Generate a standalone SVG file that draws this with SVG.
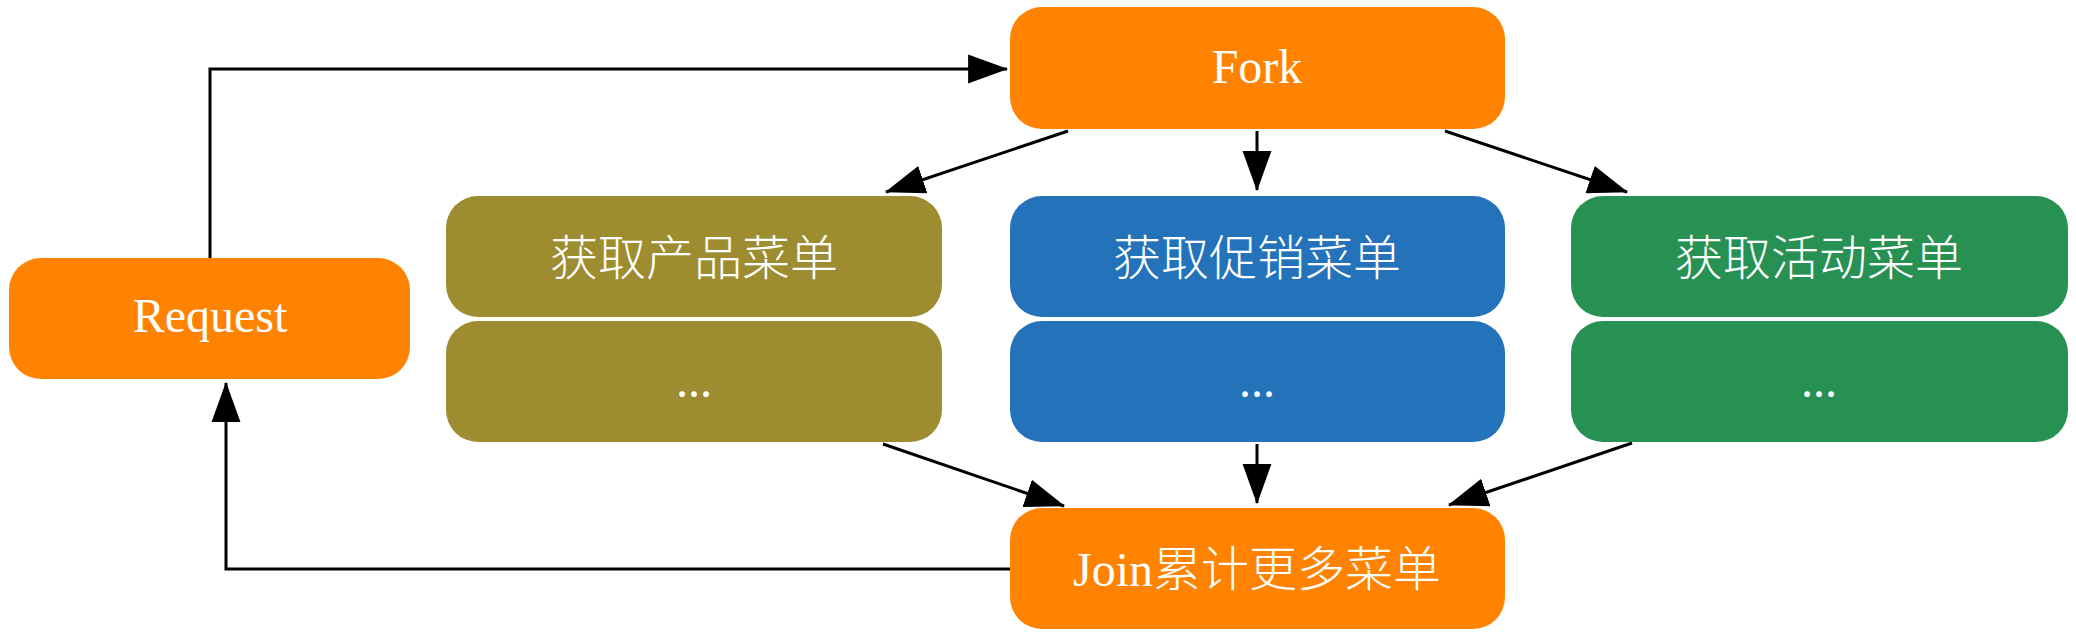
<svg xmlns="http://www.w3.org/2000/svg" width="2076" height="638" viewBox="0 0 2076 638">
<style>
.box{stroke:none}
.orange{fill:#FF8300}
.olive{fill:#9D8C30}
.blue{fill:#2372BA}
.green{fill:#279153}
.t{fill:#ffffff;font-family:"Liberation Serif","Noto Sans CJK SC",serif;font-size:48px;text-anchor:middle}
.cjk{font-weight:300}
.conn{fill:none;stroke:#000;stroke-width:3}
</style>
<defs>
<marker id="arr" markerUnits="userSpaceOnUse" markerWidth="40" markerHeight="30" viewBox="0 0 36 26" refX="35" refY="13" orient="auto">
<path d="M0,0 L36,13 L0,26 Z" fill="#000"/>
</marker>
</defs>
<rect width="2076" height="638" fill="#ffffff"/>
<g id="connectors">
<path class="conn" d="M210,258 V69 H1007" marker-end="url(#arr)"/>
<path class="conn" d="M1010,569 H226 V383" marker-end="url(#arr)"/>
<path class="conn" d="M1068,131 L886,192" marker-end="url(#arr)"/>
<path class="conn" d="M1257,131 V190" marker-end="url(#arr)"/>
<path class="conn" d="M1445,131 L1627,192" marker-end="url(#arr)"/>
<path class="conn" d="M883,444 L1064,506" marker-end="url(#arr)"/>
<path class="conn" d="M1257,444 V503" marker-end="url(#arr)"/>
<path class="conn" d="M1632,443 L1449,505" marker-end="url(#arr)"/>
</g>
<g id="request">
<rect class="box orange" x="9" y="258" width="401" height="121" rx="32"/>
<text class="t" x="210" y="332">Request</text>
</g>
<g id="fork">
<rect class="box orange" x="1010" y="7" width="495" height="122" rx="32"/>
<text class="t" x="1257" y="83">Fork</text>
</g>
<g id="product">
<rect class="box olive" x="446" y="196" width="496" height="121" rx="32"/>
<text class="t cjk" x="694" y="275">获取产品菜单</text>
</g>
<g id="product-more">
<rect class="box olive" x="446" y="321" width="496" height="121" rx="32"/>
<text class="t" x="694" y="397">...</text>
</g>
<g id="promo">
<rect class="box blue" x="1010" y="196" width="495" height="121" rx="32"/>
<text class="t cjk" x="1257" y="275">获取促销菜单</text>
</g>
<g id="promo-more">
<rect class="box blue" x="1010" y="321" width="495" height="121" rx="32"/>
<text class="t" x="1257" y="397">...</text>
</g>
<g id="activity">
<rect class="box green" x="1571" y="196" width="497" height="121" rx="32"/>
<text class="t cjk" x="1819" y="275">获取活动菜单</text>
</g>
<g id="activity-more">
<rect class="box green" x="1571" y="321" width="497" height="121" rx="32"/>
<text class="t" x="1819" y="397">...</text>
</g>
<g id="join">
<rect class="box orange" x="1010" y="508" width="495" height="121" rx="32"/>
<text class="t" x="1257" y="586">Join<tspan class="cjk">累计更多菜单</tspan></text>
</g>
</svg>
